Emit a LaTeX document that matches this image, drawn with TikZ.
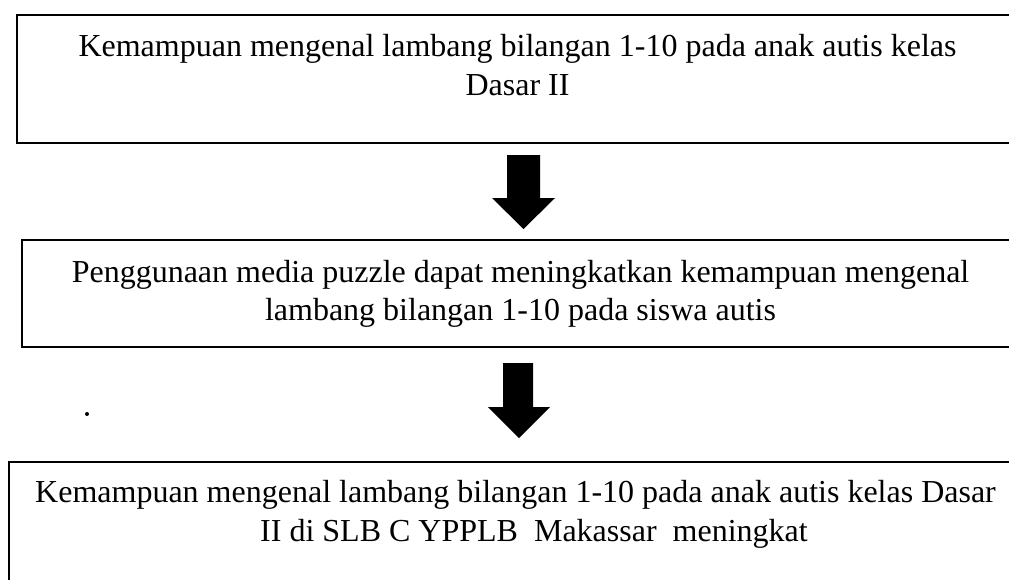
\documentclass[tikz,border=0pt]{standalone}
\usepackage{fontspec}
\setmainfont{Liberation Serif}
\begin{document}
\begin{tikzpicture}[x=1pt,y=-1pt,
  boxline/.style={line width=2.6pt, draw=black},
  txt/.style={anchor=base, inner sep=0pt, font=\fontsize{32}{38}\selectfont},
  blockarrow/.style={fill=black, draw=none}]
\useasboundingbox (0,0) rectangle (1009,579);
\clip (0,0) rectangle (1009,579);
% boxes
\draw[boxline] (17,15) rectangle (1040,143);
\draw[boxline] (22,240) rectangle (1040,347);
\draw[boxline] (9,462) rectangle (1040,620);
% texts
\node[txt] (t1a) at (517.5,56) {Kemampuan mengenal lambang bilangan 1-10 pada anak autis kelas};
\node[txt] (t1b) at (517.5,95) {Dasar II};
\node[txt] (t2a) at (520.5,282) {Penggunaan media puzzle dapat meningkatkan kemampuan mengenal};
\node[txt] (t2b) at (520.5,320) {lambang bilangan 1-10 pada siswa autis};
\node[txt] (t3a) at (515.5,502) {Kemampuan mengenal lambang bilangan 1-10 pada anak autis kelas Dasar};
\node[txt] (t3b) at (534,541) {II di SLB C YPPLB\ \ Makassar\ \ meningkat};
% arrows
\fill[blockarrow] (507,155) -- (540,155) -- (540,198) -- (555,198) -- (523.5,229) -- (492,198) -- (507,198) -- cycle;
\fill[blockarrow] (503,363) -- (533,363) -- (533,407) -- (550,407) -- (519,438) -- (488,407) -- (503,407) -- cycle;
% dot
\fill (87,414) circle (2);
\end{tikzpicture}
\end{document}
